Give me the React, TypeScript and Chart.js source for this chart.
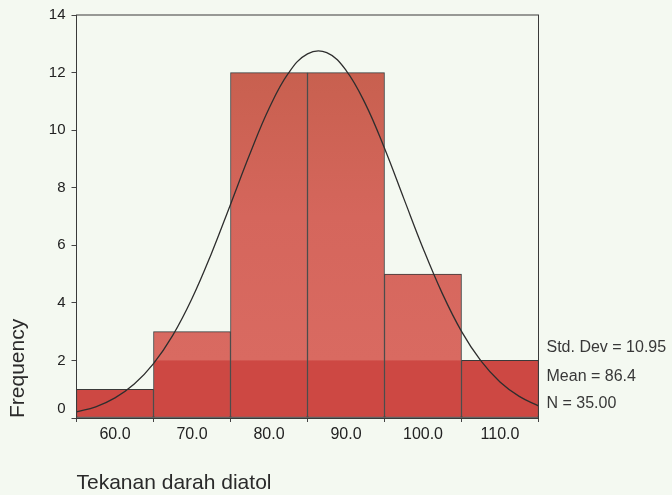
import React, { useEffect, useRef } from 'react';
import { Chart, registerables } from 'chart.js';

Chart.register(...registerables);

// Histogram bins (centres) and frequencies
const binCenters = [60, 70, 80, 90, 100, 110];
const frequencies = [1, 3, 12, 12, 5, 2];

// Normal curve
const curveX = [55, 57.5, 60, 62.5, 65, 67.5, 70, 72.5, 75, 77.5, 80, 82.5, 85, 87.5, 90, 92.5, 95, 97.5, 100, 102.5, 105, 107.5, 110, 112.5, 115];
const curveY = [0.21, 0.39, 0.7, 1.18, 1.89, 2.87, 4.15, 5.7, 7.42, 9.16, 10.75, 11.97, 12.65, 12.69, 12.08, 10.92, 9.37, 7.63, 5.9, 4.33, 3.01, 1.99, 1.25, 0.75, 0.42];

const xTickValues = [60, 70, 80, 90, 100, 110];
const yTickValues = [0, 2, 4, 6, 8, 10, 12, 14];
const statsLines = ['Std. Dev = 10.95', 'Mean = 86.4', 'N = 35.00'];
const xTitle = 'Tekanan darah diatol';
const yTitle = 'Frequency';

const FONT = '"Liberation Sans", Arial, sans-serif';

export default function App() {
  const ref = useRef<HTMLCanvasElement | null>(null);

  useEffect(() => {
    document.body.style.margin = '0';
    document.body.style.background = '#f4f9f1';
    const canvas = ref.current;
    if (!canvas) return;

    const overlay = {
      id: 'overlay',
      beforeDraw(chart: any) {
        const c = chart.ctx;
        c.save();
        c.fillStyle = '#f4f9f1';
        c.fillRect(0, 0, chart.width, chart.height);
        c.restore();
      },
      afterDatasetsDraw(chart: any) {
        const c = chart.ctx;
        const a = chart.chartArea;
        c.save();
        c.strokeStyle = '#3a3a3a';
        c.lineWidth = 1;
        c.strokeRect(a.left, a.top, a.right - a.left, a.bottom - a.top);
        c.restore();
      },
      afterDraw(chart: any) {
        const c = chart.ctx;
        const a = chart.chartArea;
        c.save();
        c.fillStyle = '#383838';
        c.font = `16px ${FONT}`;
        c.textBaseline = 'middle';
        c.textAlign = 'left';
        const ys = [348, 377, 404];
        statsLines.forEach((t, i) => c.fillText(t, a.right + 8, ys[i]));
        // zero label is lifted above the x axis, as in the original
        c.font = `15px ${FONT}`;
        c.fillStyle = '#222222';
        c.textAlign = 'right';
        c.fillText('0', a.left - 11, a.bottom - 9);
        c.restore();
      },
    };

    const barColor = (ctx: any) => {
      const chart = ctx.chart;
      const area = chart.chartArea;
      const ys = chart.scales.y;
      if (!area || !ys) return '#d05a52';
      const y0 = ys.getPixelForValue(0);
      const y14 = ys.getPixelForValue(14);
      const g = chart.ctx.createLinearGradient(0, y0, 0, y14);
      const f2 = 2 / 14;
      g.addColorStop(0, '#cd4843');
      g.addColorStop(f2 - 0.001, '#cd4843');
      g.addColorStop(f2 + 0.001, '#d96a61');
      g.addColorStop(7 / 14, '#d5665c');
      g.addColorStop(12 / 14, '#c8604f');
      g.addColorStop(1, '#c8604f');
      return g;
    };

    const chart = new Chart(canvas, {
      type: 'bar',
      data: {
        datasets: [
          {
            type: 'line',
            data: curveX.map((x, i) => ({ x, y: curveY[i] })),
            borderColor: '#2e2e2e',
            borderWidth: 1.3,
            pointRadius: 0,
            tension: 0.4,
            fill: false,
            order: 0,
          } as any,
          {
            type: 'bar',
            data: binCenters.map((x, i) => ({ x, y: frequencies[i] })),
            backgroundColor: barColor,
            borderColor: '#3a3a3a',
            borderWidth: 1,
            borderSkipped: false,
            barPercentage: 1,
            categoryPercentage: 1,
            order: 1,
          } as any,
        ],
      },
      options: {
        responsive: false,
        animation: false,
        layout: { padding: { top: 14, right: 133.5, left: 0, bottom: 0 } },
        plugins: { legend: { display: false }, tooltip: { enabled: false } },
        scales: {
          x: {
            type: 'linear',
            min: 55,
            max: 115,
            offset: false,
            afterBuildTicks: (s: any) => {
              s.ticks = xTickValues.map((v) => ({ value: v }));
            },
            afterFit: (s: any) => {
              s.height = 77;
            },
            grid: { drawOnChartArea: false, drawTicks: true, tickLength: 4, color: '#444' },
            border: { display: true, color: '#3a3a3a', width: 1 },
            ticks: {
              callback: (v: any) => Number(v).toFixed(1),
              font: { family: FONT, size: 16 },
              color: '#222222',
              padding: 3,
              maxRotation: 0,
              autoSkip: false,
            },
            title: {
              display: true,
              text: xTitle,
              align: 'start',
              font: { family: FONT, size: 21, lineHeight: 1 },
              color: '#2a2a2a',
              padding: { top: 0, bottom: 1 },
            },
          },
          y: {
            type: 'linear',
            min: 0,
            max: 14,
            afterBuildTicks: (s: any) => {
              s.ticks = yTickValues.map((v) => ({ value: v }));
            },
            afterFit: (s: any) => {
              s.width = 76.5;
            },
            grid: { drawOnChartArea: false, drawTicks: true, tickLength: 5, color: '#444' },
            border: { display: true, color: '#3a3a3a', width: 1 },
            ticks: {
              callback: (v: any) => (Number(v) === 0 ? '' : String(v)),
              font: { family: FONT, size: 15 },
              color: '#222222',
              padding: 6,
              autoSkip: false,
            },
            title: {
              display: true,
              text: yTitle,
              align: 'start',
              font: { family: FONT, size: 21, lineHeight: 1 },
              color: '#2a2a2a',
              padding: { top: 8, bottom: 0 },
            },
          },
        },
      },
      plugins: [overlay],
    });

    return () => chart.destroy();
  }, []);

  return (
    <div style={{ width: 672, height: 495 }}>
      <canvas ref={ref} width={672} height={495} style={{ display: 'block' }} />
    </div>
  );
}
